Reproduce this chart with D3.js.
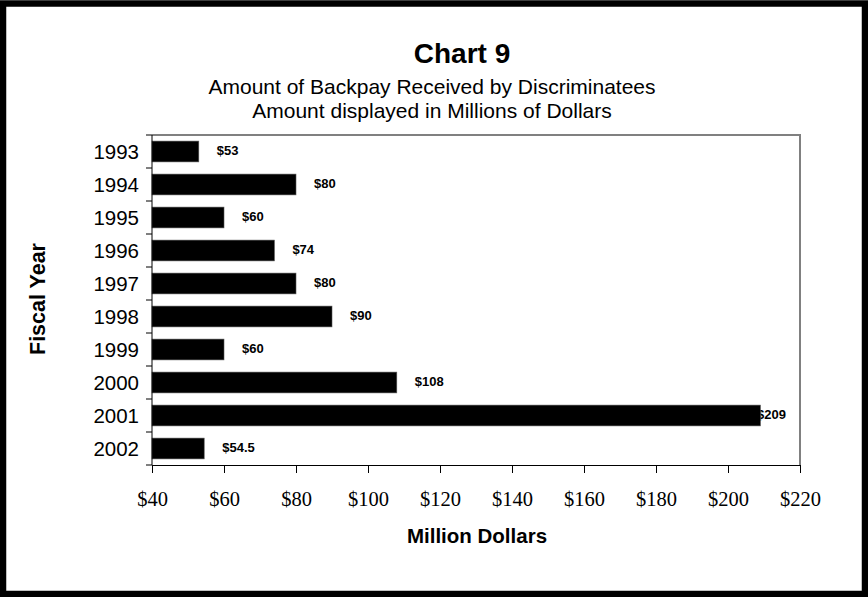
<!DOCTYPE html>
<html>
<head>
<meta charset="utf-8">
<script src="https://cdn.jsdelivr.net/npm/d3@7"></script>
<style>
  html, body { margin: 0; padding: 0; background: #fff; }
  svg { display: block; }
</style>
</head>
<body>
<div id="chart"></div>
<script>
// Backpay received by discriminatees, fiscal years 1993-2002 (millions of dollars)
const years = ["1993", "1994", "1995", "1996", "1997", "1998", "1999", "2000", "2001", "2002"];
const backpay = [53, 80, 60, 74, 80, 90, 60, 108, 209, 54.5];
const valueLabels = ["$53", "$80", "$60", "$74", "$80", "$90", "$60", "$108", "$209", "$54.5"];
const xTicks = [40, 60, 80, 100, 120, 140, 160, 180, 200, 220];

const W = 868, H = 597;
const plot = { left: 152, top: 135, right: 800, bottom: 465 };

const svg = d3.select("#chart").append("svg")
  .attr("width", W).attr("height", H);

svg.append("rect").attr("width", W).attr("height", H).attr("fill", "#fff");

const x = d3.scaleLinear().domain([40, 220]).range([plot.left, plot.right]);
const y = d3.scaleBand().domain(years).range([plot.top, plot.bottom])
  .paddingInner(0.37).paddingOuter(0.185);

// Titles
svg.append("text")
  .attr("x", 462).attr("y", 63)
  .attr("text-anchor", "middle")
  .style("font-family", "Arial, 'Liberation Sans', sans-serif")
  .style("font-weight", "bold").style("font-size", "28px")
  .text("Chart 9");
const subs = ["Amount of Backpay Received by Discriminatees", "Amount displayed in Millions of Dollars"];
svg.selectAll("text.sub").data(subs).enter().append("text")
  .attr("class", "sub")
  .attr("x", 432).attr("y", (d, i) => 94 + i * 24)
  .attr("text-anchor", "middle")
  .style("font-family", "Arial, 'Liberation Sans', sans-serif")
  .style("font-size", "21px")
  .text(d => d);

// Plot frame: grey top and right edges
svg.append("path")
  .attr("d", `M${plot.left},${plot.top}H${plot.right}V${plot.bottom}`)
  .attr("fill", "none").attr("stroke", "#808080").attr("stroke-width", 2);

// Value labels sit beneath the bars, kept inside the plot area
svg.selectAll("text.val").data(backpay).enter().append("text")
  .attr("class", "val")
  .attr("x", d => Math.min(x(d) + 18, plot.right - 43))
  .attr("y", (d, i) => y(years[i]) + y.bandwidth() / 2 - 1)
  .attr("dy", "0.35em")
  .style("font-family", "Arial, 'Liberation Sans', sans-serif")
  .style("font-weight", "bold").style("font-size", "13px")
  .text((d, i) => valueLabels[i]);

// Bars
svg.selectAll("rect.bar").data(backpay).enter().append("rect")
  .attr("class", "bar")
  .attr("x", x(40))
  .attr("y", (d, i) => y(years[i]))
  .attr("width", d => x(d) - x(40))
  .attr("height", y.bandwidth())
  .attr("fill", "#000")
  .attr("stroke", "#555").attr("stroke-width", 0.6);

// Category axis: ticks on band boundaries
const yAxisG = svg.append("g").attr("transform", `translate(${plot.left},0)`);
yAxisG.append("line")
  .attr("x1", 0).attr("x2", 0).attr("y1", plot.top).attr("y2", plot.bottom)
  .attr("stroke", "#000");
const boundaries = d3.range(years.length + 1).map(i => plot.top + i * (plot.bottom - plot.top) / years.length);
yAxisG.selectAll("line.tk").data(boundaries).enter().append("line")
  .attr("x1", -6).attr("x2", 0).attr("y1", d => d).attr("y2", d => d)
  .attr("stroke", "#000");
yAxisG.selectAll("text").data(years).enter().append("text")
  .attr("x", -13)
  .attr("y", d => y(d) + y.bandwidth() / 2)
  .attr("dy", "0.36em")
  .attr("text-anchor", "end")
  .style("font-family", "Arial, 'Liberation Sans', sans-serif")
  .style("font-size", "20.5px")
  .text(d => d);

// Value axis
const xAxis = d3.axisBottom(x).tickValues(xTicks).tickFormat(d => "$" + d)
  .tickSizeInner(8).tickSizeOuter(0).tickPadding(18);
const xg = svg.append("g").attr("transform", `translate(0,${plot.bottom})`).call(xAxis);
xg.select(".domain").attr("stroke", "#000");
xg.selectAll(".tick line").attr("stroke", "#000");
xg.selectAll(".tick text")
  .style("font-family", "'Times New Roman', 'Liberation Serif', serif")
  .style("font-size", "20.5px").attr("fill", "#000");

// Axis titles
svg.append("text")
  .attr("x", 477).attr("y", 543)
  .attr("text-anchor", "middle")
  .style("font-family", "Arial, 'Liberation Sans', sans-serif")
  .style("font-weight", "bold").style("font-size", "20.5px")
  .text("Million Dollars");
svg.append("text")
  .attr("transform", "translate(45,299) rotate(-90)")
  .attr("text-anchor", "middle")
  .style("font-family", "Arial, 'Liberation Sans', sans-serif")
  .style("font-weight", "bold").style("font-size", "21.5px")
  .text("Fiscal Year");

// Outer black frame
svg.append("rect")
  .attr("x", 3).attr("y", 3.5).attr("width", W - 6).attr("height", H - 6.5)
  .attr("fill", "none").attr("stroke", "#000").attr("stroke-width", 6.5);
</script>
</body>
</html>
